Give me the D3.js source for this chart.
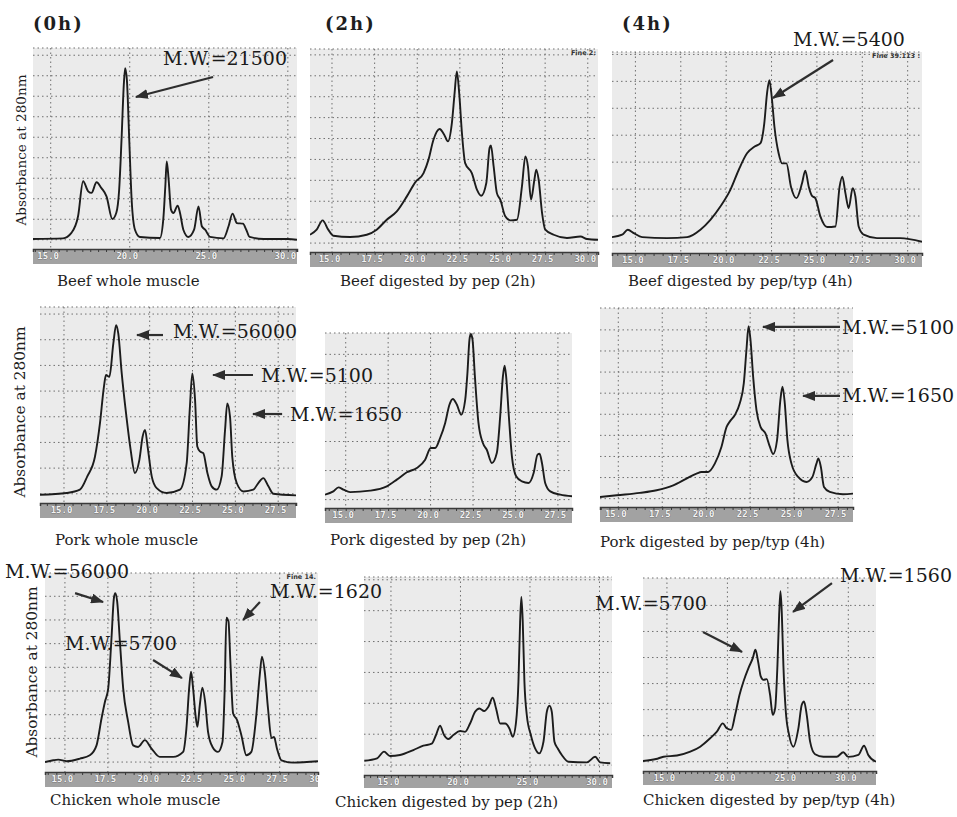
<!DOCTYPE html>
<html>
<head>
<meta charset="utf-8">
<script src="https://cdn.jsdelivr.net/npm/d3@7"></script>
<style>
  html, body { margin: 0; padding: 0; background: #fff; }
  svg { display: block; }
</style>
</head>
<body>
<div id="chart"></div>
<script>
// Size-exclusion chromatograms: [retention time (min), absorbance at 280 nm (relative, 0-100)]
const beefWhole = [[13.88,5.0],[15.78,5.3],[16.31,8],[16.73,16.3],[17.05,33.7],[17.37,28.7],[17.58,27.9],[17.9,33.2],[18.21,30.3],[18.53,26.2],[18.9,14.9],[19.15,18],[19.33,29.5],[19.48,54.4],[19.63,82.6],[19.71,90],[19.82,84],[19.97,54],[20.12,24.5],[20.33,9.6],[20.64,6],[21.91,5.5],[22.12,14.6],[22.25,31.2],[22.34,43.6],[22.46,34.5],[22.61,19.6],[22.76,17.9],[23.03,21.6],[23.18,17.9],[23.39,9.6],[23.71,6],[24.07,9.6],[24.35,21.2],[24.56,11.3],[24.77,9.6],[25.08,6],[25.93,5.3],[26.25,11.3],[26.5,17.6],[26.78,12.9],[27.16,12.6],[27.37,9.6],[27.58,6],[28.47,5],[30.0,5],[30.58,4.6]];
const beefPep2h = [[13.71,8.5],[14.1,11],[14.45,15.6],[14.78,11],[15.08,8],[16.06,7.4],[17.04,8.5],[17.62,11],[18.21,15.9],[18.8,20],[19.39,27.4],[19.88,34.3],[20.37,38.9],[20.66,45.5],[20.95,55.3],[21.31,60.6],[21.58,57.8],[21.8,54.5],[22.03,63.5],[22.19,78.3],[22.32,89],[22.46,78.3],[22.62,58.6],[22.81,43.8],[23.2,38.9],[23.5,30.7],[23.75,27.7],[24.05,34],[24.24,51.2],[24.32,52.5],[24.48,42.2],[24.67,29],[24.87,25.8],[25.16,17.6],[25.46,15.6],[25.85,15.9],[26.14,32.3],[26.34,47.1],[26.49,42.2],[26.67,25.8],[26.87,35.6],[26.98,40.6],[27.12,35.6],[27.32,19.2],[27.51,11],[28.0,8.5],[28.78,6.9],[29.57,7.6],[29.96,6.4],[30.6,6]];
const beefPepTyp4h = [[13.71,7.9],[14.27,9.1],[14.58,11.6],[14.91,9.9],[15.37,7.9],[16.74,7.4],[17.85,7.9],[18.58,11.6],[19.13,16.5],[19.68,23.1],[20.23,31.4],[20.69,41.3],[21.15,49.6],[21.55,52.9],[21.88,54.5],[22.1,64.5],[22.25,79.3],[22.38,86],[22.51,77.7],[22.66,62.8],[22.89,49.6],[23.08,44.6],[23.32,44.6],[23.57,33],[23.87,27.3],[24.18,34.7],[24.36,41],[24.55,33],[24.73,28.4],[24.91,27.3],[25.19,18.2],[25.56,12.9],[26.02,13.2],[26.25,33],[26.4,38],[26.57,29.8],[26.75,22.3],[26.97,32.2],[27.12,28.1],[27.3,13.2],[27.58,9.1],[28.31,7.4],[29.6,7.4],[30.79,5.6]];
const porkWhole = [[13.6,4.2],[15.16,5.1],[15.93,6.8],[16.36,13.6],[16.81,23.7],[17.1,40.7],[17.33,59.3],[17.45,65.3],[17.65,64.4],[17.88,81.4],[18.04,90.7],[18.17,86.4],[18.37,66.1],[18.62,45.8],[18.89,27.1],[19.14,15.3],[19.4,22],[19.59,33.9],[19.73,37.3],[19.88,28.8],[20.12,13.6],[20.41,7.6],[20.99,5.1],[21.77,6.8],[22.16,20.3],[22.35,49.2],[22.49,66.1],[22.65,52.5],[22.78,28.8],[22.94,26.3],[23.13,25.4],[23.37,15.3],[23.62,8.5],[23.91,6.8],[24.2,13.6],[24.4,37.3],[24.53,50.8],[24.69,44],[24.82,23.7],[25.08,10.2],[25.47,5.9],[26.05,6.8],[26.34,10.2],[26.63,12.7],[26.93,8.5],[27.22,4.7],[28.54,3.9]];
const porkPep2h = [[13.78,7.6],[14.27,9.5],[14.57,11.8],[14.86,10.5],[15.26,9.1],[16.43,9.9],[17.42,12.4],[18.01,16.2],[18.6,20.4],[19.19,22.9],[19.68,27.6],[20.01,34.3],[20.27,34.3],[20.56,40],[20.86,48.6],[21.11,59],[21.31,62.3],[21.55,59],[21.8,53.3],[22.04,61.9],[22.17,77.1],[22.29,96.2],[22.37,99.4],[22.47,96.2],[22.61,75.2],[22.82,48.6],[23.08,37.1],[23.31,33.3],[23.61,25.7],[23.9,31.4],[24.1,52.4],[24.26,75.2],[24.36,81.3],[24.45,75.2],[24.61,52.4],[24.79,29.5],[25.04,18.1],[25.38,15.2],[25.77,14.3],[26.07,20],[26.3,30.5],[26.42,31],[26.56,25.7],[26.75,14.3],[27.05,9.5],[27.64,7.6],[28.33,6.7]];
const porkPepTyp4h = [[13.96,5],[14.91,5.9],[16.23,7.1],[17.18,8.4],[18.13,10.9],[18.88,14.3],[19.45,16.8],[19.73,17.6],[20.11,17.6],[20.49,21.8],[20.87,30.3],[21.16,40.3],[21.34,42.9],[21.63,46.2],[21.91,52.1],[22.14,62.2],[22.29,79],[22.41,90.8],[22.52,84],[22.67,65.5],[22.86,48.7],[23.09,40.3],[23.37,37],[23.62,30.3],[23.81,26.6],[24.03,33.6],[24.22,53.8],[24.34,60.5],[24.47,52.1],[24.62,33.6],[24.85,21.8],[25.23,15.1],[25.7,12.6],[26.04,15.1],[26.27,21.8],[26.38,24.4],[26.52,20.2],[26.7,10.1],[27.03,7.6],[27.78,6.4],[28.35,6.7]];
const chickenWhole = [[13.84,5],[14.32,5.9],[14.61,6.2],[15.1,5.4],[15.87,6.7],[16.45,8.4],[16.84,13.4],[17.13,26.9],[17.33,35.3],[17.52,42],[17.71,67.2],[17.85,87.4],[17.93,89.9],[18.04,85.7],[18.2,65.5],[18.39,42],[18.68,25.2],[18.97,13.4],[19.26,12.6],[19.65,16],[20.04,11.8],[20.52,7.6],[21.3,7.6],[21.88,10.1],[22.07,21.8],[22.23,42],[22.34,50.4],[22.46,42],[22.6,28.6],[22.71,22.7],[22.85,33.6],[23.0,42.4],[23.16,35.3],[23.33,20.2],[23.59,12.6],[23.91,10.1],[24.17,15.1],[24.3,42],[24.4,77.6],[24.52,75.6],[24.63,55.5],[24.79,29.4],[25.02,26.1],[25.27,18.5],[25.56,8.4],[25.85,10.1],[26.14,28.6],[26.34,48.7],[26.47,58],[26.63,50.4],[26.82,31.9],[27.02,17.1],[27.17,17.6],[27.34,11.8],[27.6,5.9],[28.28,4.7],[29.73,5.4]];
const chickenPep2h = [[13.08,7.2],[14.0,8.4],[14.5,11.8],[14.93,9.6],[15.65,10.1],[16.61,12.6],[17.33,14.8],[17.93,15.8],[18.24,20.2],[18.53,24.9],[18.82,20.2],[19.13,18.2],[19.49,20.2],[19.97,22.2],[20.33,21.8],[20.69,26],[21.05,31.9],[21.36,33.6],[21.7,32.3],[22.01,34.5],[22.32,39],[22.56,33.6],[22.85,26],[23.21,26],[23.52,23.5],[23.76,19.3],[24.0,26.9],[24.17,47.1],[24.29,77.3],[24.38,89.9],[24.48,77.3],[24.6,47.1],[24.77,30.3],[25.06,20.2],[25.37,13.4],[25.66,10.9],[25.97,16.8],[26.21,31.9],[26.4,35],[26.57,31.9],[26.76,16.8],[27.0,13.4],[27.29,10.1],[27.77,6.7],[29.09,6.4],[29.69,9.2],[30.05,6.4],[30.77,5.9]];
const chickenPepTyp4h = [[13.02,5.2],[14.1,6.2],[14.72,7.4],[15.83,8],[16.93,10],[17.75,12.6],[18.58,17],[19.13,20.4],[19.62,24.7],[19.95,22.1],[20.31,21.3],[20.64,29.1],[21.0,39.4],[21.33,46.4],[21.74,53.3],[22.1,58.5],[22.32,62.8],[22.54,56.7],[22.76,49],[22.98,47.2],[23.26,47.6],[23.53,39.4],[23.75,29.1],[23.95,32.5],[24.14,55],[24.28,81],[24.39,93.1],[24.5,81.8],[24.63,55],[24.83,30.8],[25.1,18.7],[25.46,12.6],[25.87,22.1],[26.15,34.3],[26.34,36],[26.56,29.1],[26.84,15.2],[27.25,8.7],[27.94,7.4],[29.04,7.4],[29.59,9.7],[30.0,7.3],[30.83,8.3],[31.3,13.1],[31.65,8.3],[32.29,4.8]];

// tick labels on the time bar
const ticks5 = [15, 20, 25, 30];
const ticksHalf = [15, 17.5, 20, 22.5, 25, 27.5, 30];
const ticksHalfShort = [15, 17.5, 20, 22.5, 25, 27.5];

const timeLabels = ["(0h)", "(2h)", "(4h)"];
const captions = [
  "Beef whole muscle", "Beef digested by pep (2h)", "Beef digested by pep/typ (4h)",
  "Pork whole muscle", "Pork digested by pep (2h)", "Pork digested by pep/typ (4h)",
  "Chicken whole muscle", "Chicken digested by pep (2h)", "Chicken digested by pep/typ (4h)"
];
const yTitle = "Absorbance at 280nm";

// molecular-weight callouts: label point, arrow tail, arrow head (time, absorbance)
const callouts = [
  {panel: 0, text: "M.W.=21500", at: [29.95, 91.5], anchor: "end", from: [25.27, 85.6], to: [20.39, 75.6]},
  {panel: 2, text: "M.W.=5400", at: [29.85, 103], anchor: "end", from: [25.89, 96], to: [22.58, 77.1]},
  {panel: 3, text: "M.W.=56000", at: [21.36, 84.2], anchor: "start", from: [20.78, 85.7], to: [19.26, 85.7]},
  {panel: 3, text: "M.W.=5100", at: [26.5, 61.7], anchor: "start", from: [26.03, 65.3], to: [23.7, 65.3]},
  {panel: 3, text: "M.W.=1650", at: [28.19, 41.8], anchor: "start", from: [27.73, 45.4], to: [26.03, 45.4]},
  {panel: 5, text: "M.W.=5100", at: [27.73, 86.9], anchor: "start", from: [27.61, 90.5], to: [23.23, 90.5]},
  {panel: 5, text: "M.W.=1650", at: [27.73, 52.8], anchor: "start", from: [27.61, 55.8], to: [25.51, 55.8]},
  {panel: 6, text: "M.W.=56000", at: [11.51, 97.5], anchor: "start", from: [15.59, 89.9], to: [17.22, 85.4]},
  {panel: 6, text: "M.W.=5700", at: [15.0, 61.3], anchor: "start", from: [20.13, 56.3], to: [21.81, 47.2]},
  {panel: 6, text: "M.W.=1620", at: [26.94, 87.4], anchor: "start", from: [26.35, 85.4], to: [25.37, 76.4]},
  {panel: 8, text: "M.W.=1560", at: [29.31, 97.9], anchor: "start", from: [28.65, 97.4], to: [25.43, 82.4]},
  {panel: 8, text: "M.W.=5700", at: [18.31, 83.4], anchor: "end", from: [17.98, 72], to: [21.21, 61.7]}
];

// panel frames: [left, right, top, bar top, bar bottom]
const panels = [
  {data: beefWhole,       box: [33, 297, 48, 249, 264],   xDomain: [13.88, 30.58], ticks: ticks5,         vGrid: ticks5,         hGrid: [4.6, 10.2],  cap: [57, 286],  note: null},
  {data: beefPep2h,       box: [310, 598, 49, 252, 267],  xDomain: [13.71, 30.6],  ticks: ticksHalf,      vGrid: ticksHalf,      hGrid: [4.4, 10.3],  cap: [340, 286], note: "Fine 2:"},
  {data: beefPepTyp4h,    box: [612, 922, 52, 253, 267],  xDomain: [13.71, 30.79], ticks: ticksHalf,      vGrid: ticksHalf,      hGrid: [5, 13.4],    cap: [628, 286], note: "Fine 39.113 :"},
  {data: porkWhole,       box: [40, 296, 307, 503, 518],  xDomain: [13.6, 28.54],  ticks: ticksHalfShort, vGrid: ticksHalfShort, hGrid: [4.7, 13.1],  cap: [55, 545],  note: null},
  {data: porkPep2h,       box: [325, 572, 333, 508, 523], xDomain: [13.78, 28.33], ticks: ticksHalfShort, vGrid: ticksHalfShort, hGrid: [4.8, 16.6],  cap: [330, 545], note: null},
  {data: porkPepTyp4h,    box: [600, 853, 308, 507, 522], xDomain: [13.96, 28.35], ticks: ticksHalfShort, vGrid: ticksHalfShort, hGrid: [4.2, 10.6],  cap: [600, 547], note: null},
  {data: chickenWhole,    box: [45, 318, 573, 772, 787],  xDomain: [13.84, 29.73], ticks: ticksHalf,      vGrid: ticksHalf,      hGrid: [5, 11.9],    cap: [50, 805],  note: "Fine 14."},
  {data: chickenPep2h,    box: [364, 612, 577, 775, 788], xDomain: [13.06, 30.9],  ticks: ticks5,         vGrid: ticks5,         hGrid: [5, 15.6],    cap: [335, 807], note: null},
  {data: chickenPepTyp4h, box: [643, 876, 578, 771, 785], xDomain: [13.02, 32.29], ticks: ticks5,         vGrid: ticks5,         hGrid: [4.8, 13.5],  cap: [643, 805], note: null}
];

const width = 957, height = 817;
const serif = "'DejaVu Serif', 'Liberation Serif', serif";

const svg = d3.select("#chart").append("svg")
  .attr("width", width)
  .attr("height", height)
  .style("background", "#fff");

const defs = svg.append("defs");
defs.append("marker")
  .attr("id", "arrowhead")
  .attr("viewBox", "0 0 13 10")
  .attr("refX", 12)
  .attr("refY", 5)
  .attr("markerWidth", 13)
  .attr("markerHeight", 10)
  .attr("markerUnits", "userSpaceOnUse")
  .attr("orient", "auto")
  .append("path")
  .attr("d", "M0,0L13,5L0,10Z")
  .attr("fill", "#2e2e2e");

panels.forEach((p, i) => {
  const [left, right, top, barTop, barBottom] = p.box;
  const x = d3.scaleLinear().domain(p.xDomain).range([left, right]);
  const y = d3.scaleLinear().domain([0, 100]).range([barTop, top]);
  p.x = x;
  p.y = y;

  const g = svg.append("g").attr("class", "panel");

  defs.append("clipPath").attr("id", "clip" + i)
    .append("rect")
    .attr("x", left).attr("y", top - 1)
    .attr("width", right - left).attr("height", barTop - top + 1);

  defs.append("clipPath").attr("id", "barclip" + i)
    .append("rect")
    .attr("x", left).attr("y", barTop - 1)
    .attr("width", right - left).attr("height", barBottom - barTop + 2);

  // plot background
  g.append("rect")
    .attr("x", left).attr("y", top)
    .attr("width", right - left).attr("height", barTop - top)
    .attr("fill", "#ebebeb");

  // dotted grid
  g.selectAll(".hgrid")
    .data(d3.range(p.hGrid[0], 99, p.hGrid[1]).concat([100]))
    .join("line")
    .attr("x1", left).attr("x2", right)
    .attr("y1", d => y(d)).attr("y2", d => y(d))
    .attr("stroke", "#6f6f6f")
    .attr("stroke-width", 1)
    .attr("stroke-dasharray", "1.5,3");

  g.selectAll(".vgrid")
    .data(p.vGrid.filter(t => x(t) > left && x(t) < right))
    .join("line")
    .attr("x1", d => x(d)).attr("x2", d => x(d))
    .attr("y1", top).attr("y2", barTop)
    .attr("stroke", "#6f6f6f")
    .attr("stroke-width", 1)
    .attr("stroke-dasharray", "1.5,3");

  // time bar
  g.append("rect")
    .attr("x", left).attr("y", barTop)
    .attr("width", right - left).attr("height", barBottom - barTop)
    .attr("fill", "#a2a2a2");

  const minor = d3.range(Math.ceil(p.xDomain[0] * 2) / 2, p.xDomain[1], 0.5);
  g.append("g")
    .attr("transform", `translate(0,${barTop})`)
    .call(d3.axisBottom(x).tickValues(minor).tickSize(3).tickFormat(""))
    .call(a => a.select(".domain").attr("stroke", "#3a3a3a").attr("stroke-width", 1.5))
    .call(a => a.selectAll(".tick line").attr("stroke", "#3a3a3a"));

  g.append("g")
    .attr("clip-path", `url(#barclip${i})`)
    .append("g")
    .attr("transform", `translate(0,${barTop})`)
    .call(d3.axisBottom(x).tickValues(p.ticks.filter(t => x(t) < right + 14)).tickSize(0).tickPadding(4).tickFormat(d3.format(".1f")))
    .call(a => a.select(".domain").remove())
    .call(a => a.selectAll("text")
      .attr("dx", -3)
      .style("font-family", "'DejaVu Sans Mono', monospace")
      .style("font-weight", "bold")
      .style("font-size", "9px")
      .attr("fill", "#f3f3f3")
      .attr("stroke", "#4a4a4a")
      .attr("stroke-width", 0.5)
      .attr("paint-order", "stroke"));

  // chromatogram trace
  const line = d3.line()
    .x(d => x(d[0]))
    .y(d => y(d[1]))
    .curve(d3.curveMonotoneX);

  g.append("path")
    .datum(p.data)
    .attr("clip-path", `url(#clip${i})`)
    .attr("fill", "none")
    .attr("stroke", "#1c1c1c")
    .attr("stroke-width", 1.9)
    .attr("stroke-linejoin", "round")
    .attr("d", line);

  if (p.note) {
    g.append("text")
      .attr("x", right - 2).attr("y", top + 6)
      .attr("text-anchor", "end")
      .style("font-family", "'DejaVu Sans', sans-serif")
      .style("font-size", "6.5px")
      .style("font-weight", "bold")
      .attr("fill", "#333")
      .text(p.note);
  }

  g.append("text")
    .attr("x", p.cap[0]).attr("y", p.cap[1])
    .style("font-family", serif)
    .style("font-size", "15px")
    .attr("fill", "#1e1e1e")
    .text(captions[i]);
});

// incubation time headings
[[33, 30], [325, 30], [622, 30]].forEach((pos, i) => {
  svg.append("text")
    .attr("x", pos[0]).attr("y", pos[1])
    .style("font-family", serif)
    .style("font-size", "18px")
    .style("font-weight", "bold")
    .style("letter-spacing", "2px")
    .attr("fill", "#1e1e1e")
    .text(timeLabels[i]);
});

// y titles, one per row
[[26, 150, 13.6], [25, 412, 15.4], [37, 672, 15.4]].forEach(r => {
  svg.append("text")
    .attr("transform", `translate(${r[0]},${r[1]}) rotate(-90)`)
    .attr("text-anchor", "middle")
    .style("font-family", serif)
    .style("font-size", r[2] + "px")
    .attr("fill", "#1e1e1e")
    .text(yTitle);
});

// molecular-weight callouts
callouts.forEach(c => {
  const p = panels[c.panel];
  svg.append("line")
    .attr("x1", p.x(c.from[0])).attr("y1", p.y(c.from[1]))
    .attr("x2", p.x(c.to[0])).attr("y2", p.y(c.to[1]))
    .attr("stroke", "#2e2e2e")
    .attr("stroke-width", 2.2)
    .attr("marker-end", "url(#arrowhead)");
  svg.append("text")
    .attr("x", p.x(c.at[0])).attr("y", p.y(c.at[1]))
    .attr("text-anchor", c.anchor)
    .style("font-family", serif)
    .style("font-size", "19px")
    .attr("fill", "#1a1a1a")
    .text(c.text);
});
</script>
</body>
</html>
